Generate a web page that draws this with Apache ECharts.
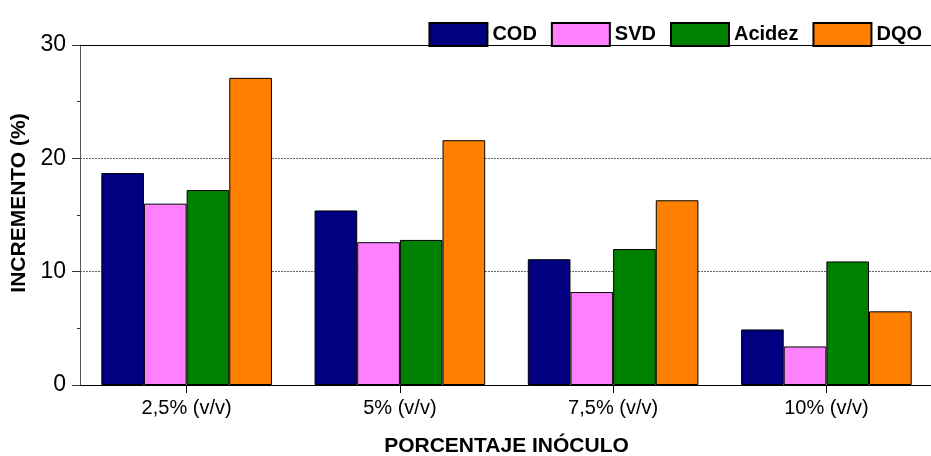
<!DOCTYPE html>
<html>
<head>
<meta charset="utf-8">
<script src="https://cdn.jsdelivr.net/npm/echarts@6/dist/echarts.min.js"></script>
<style>
  html, body { margin: 0; padding: 0; background: #fff; }
  #chart { width: 931px; height: 456px; }
</style>
</head>
<body>
<div id="chart"></div>
<script>
// Inoculum percentages on the category axis
const categories = ['2,5% (v/v)', '5% (v/v)', '7,5% (v/v)', '10% (v/v)'];

// Increment (%) for each measured parameter
const codValues    = [18.7, 15.4, 11.1, 4.9];
const svdValues    = [16.0, 12.6, 8.2, 3.4];
const acidezValues = [17.2, 12.8, 12.0, 10.9];
const dqoValues    = [27.1, 21.6, 16.3, 6.5];

const seriesNames = ['COD', 'SVD', 'Acidez', 'DQO'];
const seriesColors = ['#000080', '#FF80FF', '#008000', '#FF8000'];
const seriesData = [codValues, svdValues, acidezValues, dqoValues];

const FONT = '"Liberation Sans Narrow", "Arial Narrow", "Liberation Sans", Arial, sans-serif';

const chart = echarts.init(document.getElementById('chart'), null, { renderer: 'canvas' });

chart.setOption({
  backgroundColor: '#ffffff',
  animation: false,
  textStyle: { fontFamily: FONT },
  legend: {
    data: seriesNames,
    right: 4,
    top: 17,
    itemWidth: 58,
    itemHeight: 23,
    itemGap: 14,
    icon: 'rect',
    textStyle: { fontFamily: FONT, fontWeight: 'bold', fontSize: 20, color: '#000' }
  },
  grid: { left: 80, right: -2, top: 45, bottom: 71, containLabel: false, outerBoundsMode: 'none' },
  xAxis: [
    {
      type: 'category',
      data: categories,
      position: 'bottom',
      axisLine: { lineStyle: { color: '#000', width: 1 } },
      axisTick: { show: true, alignWithLabel: true, length: 8, lineStyle: { color: '#000' } },
      axisLabel: { fontFamily: FONT, fontSize: 20, color: '#000', margin: 13 },
      name: 'PORCENTAJE INÓCULO',
      nameLocation: 'middle',
      nameGap: 51,
      nameTextStyle: { fontFamily: FONT, fontWeight: 'bold', fontSize: 21, color: '#000' }
    },
    {
      type: 'category',
      data: categories,
      position: 'top',
      axisLine: { show: true, lineStyle: { color: '#000', width: 1 } },
      axisTick: { show: false },
      axisLabel: { show: false }
    }
  ],
  yAxis: {
    type: 'value',
    min: 0,
    max: 30,
    interval: 10,
    axisLine: { show: true, lineStyle: { color: '#555', width: 1 } },
    axisTick: { show: true, length: 8, lineStyle: { color: '#333' } },
    minorTick: { show: true, splitNumber: 2, length: 3, lineStyle: { color: '#333' } },
    axisLabel: { fontFamily: FONT, fontSize: 23, color: '#000', margin: 14 },
    splitLine: { show: true, lineStyle: { color: '#666', type: [2, 1], width: 1 } },
    name: 'INCREMENTO (%)',
    nameLocation: 'middle',
    nameGap: 48,
    nameTextStyle: { fontFamily: FONT, fontWeight: 'bold', fontSize: 21, color: '#000', padding: [0, 0, 0, 24] }
  },
  series: seriesNames.map((name, i) => ({
    name: name,
    type: 'bar',
    data: seriesData[i],
    barGap: '0%',
    barCategoryGap: '20%',
    itemStyle: { color: seriesColors[i], borderColor: '#000', borderWidth: 1 }
  }))
});
</script>
</body>
</html>
